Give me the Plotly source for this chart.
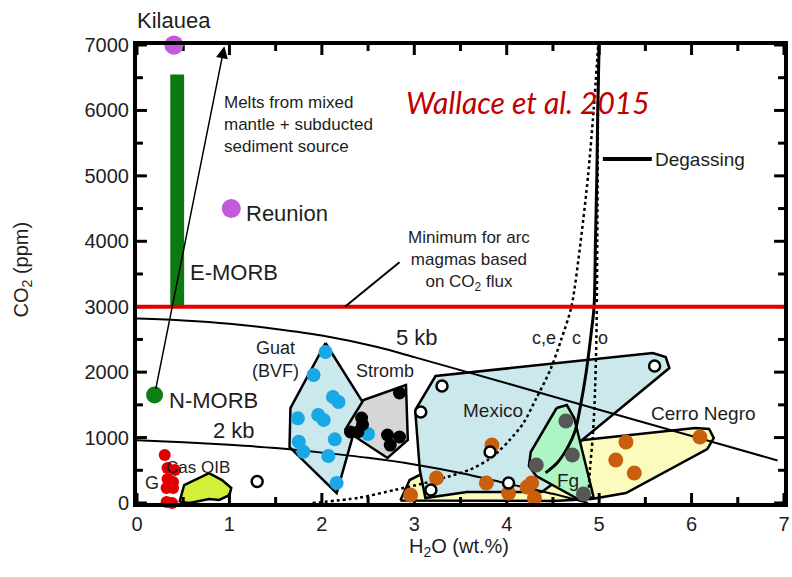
import plotly.graph_objects as go

FONT = "Liberation Sans, Arial, sans-serif"
INK = "#1e1e1e"

# ---- axis tick positions ----
x_major = [0, 1, 2, 3, 4, 5, 6, 7]
x_minor = [0.5, 1.5, 2.5, 3.5, 4.5, 5.5, 6.5]
y_major = [0, 1000, 2000, 3000, 4000, 5000, 6000, 7000]
y_minor = [500, 1500, 2500, 3500, 4500, 5500, 6500]
X_RANGE = [0, 7]
Y_RANGE = [0, 7000]

# ---- isobars (saturation pressure curves) ----
iso5_h2o = [0, 0.5, 1.0, 1.5, 2.0, 2.6, 3.0, 4.0, 5.0, 6.0, 6.93]
iso5_co2 = [2820, 2790, 2740, 2660, 2560, 2384, 2230, 1830, 1425, 1025, 650]
iso2_h2o = [0, 0.5, 1.0, 1.5, 2.0, 2.5, 3.0, 3.5, 4.0, 4.5, 4.88]
iso2_co2 = [960, 930, 890, 840, 770, 690, 590, 460, 300, 140, 0]

# ---- degassing paths ----
closed_h2o = [4.42, 4.55, 4.66, 4.74, 4.80, 4.86, 4.91, 4.945, 4.96, 4.975, 4.985, 5.0]
closed_co2 = [460, 620, 850, 1100, 1500, 2000, 2550, 3000, 4000, 5000, 6000, 7000]
open_h2o = [4.88, 4.90, 4.93, 4.95, 4.97, 4.98, 4.99]
open_co2 = [50, 500, 1000, 1500, 2500, 4000, 7000]
ce_h2o = [1.9, 2.4, 2.79, 3.1, 3.36, 3.6, 3.8, 3.92, 4.03, 4.18, 4.32, 4.47, 4.59, 4.70, 4.80, 4.88, 4.94, 4.99]
ce_co2 = [0, 80, 200, 300, 400, 510, 660, 800, 960, 1220, 1600, 2030, 2500, 3000, 4000, 5000, 6000, 7000]

# ---- field outlines ----
cerro_h2o = [2.85, 2.95, 3.3, 4.83, 6.04, 6.19, 6.24, 6.17, 5.29, 4.92, 4.5, 2.85]
cerro_co2 = [40, 351, 600, 963, 1146, 1131, 993, 825, 153, 60, 30, 40]
mexico_h2o = [3.01, 3.23, 5.58, 5.72, 5.76, 4.79, 4.70, 4.38, 3.57, 3.12, 3.06]
mexico_co2 = [1421, 1941, 2292, 2231, 2063, 932, 504, 168, 168, 76, 504]
fg_h2o = [4.54, 4.65, 4.73, 4.94, 4.79, 4.32, 4.24, 4.26]
fg_co2 = [1452, 1497, 1299, 92, 46, 413, 565, 779]
guat_h2o = [2.04, 2.44, 2.16, 1.65, 1.66]
guat_co2 = [2445, 1545, 150, 855, 1450]
stromb_h2o = [2.25, 2.45, 2.91, 2.93, 2.71]
stromb_co2 = [1115, 1574, 1803, 963, 688]
casoib_h2o = [0.46, 0.51, 0.78, 0.92, 1.02, 1.00, 0.89, 0.78, 0.57]
casoib_co2 = [15, 275, 458, 350, 229, 122, 46, 61, 0]

# ---- melt inclusion / glass data ----
guat_pts_h2o = [2.04, 1.91, 2.12, 2.18, 1.96, 2.02, 1.74, 1.75, 1.80, 2.07, 2.14, 2.50, 2.16]
guat_pts_co2 = [2307, 1956, 1620, 1543, 1345, 1268, 1294, 937, 784, 718, 973, 1054, 305]
stromb_pts_h2o = [2.84, 2.43, 2.44, 2.31, 2.39, 2.71, 2.84, 2.74]
stromb_pts_co2 = [1681, 1299, 1200, 1085, 1085, 1039, 1009, 886]
orange_pts_h2o = [3.84, 3.24, 2.96, 3.78, 4.02, 4.22, 4.27, 4.30, 5.29, 5.18, 5.38, 6.09]
orange_pts_co2 = [886, 382, 122, 306, 153, 245, 306, 76, 932, 657, 458, 1009]
fg_pts_h2o = [4.64, 4.32, 4.71, 4.83]
fg_pts_co2 = [1253, 580, 733, 138]
mexico_pts_h2o = [3.30, 3.07, 5.60, 3.82, 3.18, 4.02, 1.30]
mexico_pts_co2 = [1788, 1390, 2093, 779, 199, 306, 330]
g_pts_h2o = [0.30, 0.33, 0.41, 0.33, 0.39, 0.32, 0.39, 0.32, 0.38]
g_pts_co2 = [733, 535, 504, 367, 321, 229, 229, 15, 0]
oib_h2o = [0.40, 1.02]
oib_co2 = [7000, 4500]
nmorb_h2o = [0.19]
nmorb_co2 = [1650]
emorb_h2o = [0.36, 0.51]
emorb_co2 = [3000, 6550]
arc_min_co2 = 3000

W, H = 792, 577
M = dict(l=137, r=2, t=45, b=74)
# data units per pixel, used to size the inward tick marks
dx_px = (X_RANGE[1] - X_RANGE[0]) / (W - M["l"] - M["r"])
dy_px = (Y_RANGE[1] - Y_RANGE[0]) / (H - M["t"] - M["b"])

fig = go.Figure()


def field(xs, ys, fill):
    fig.add_trace(go.Scatter(
        x=xs + xs[:1], y=ys + ys[:1], mode="lines", fill="toself",
        fillcolor=fill, line=dict(color="black", width=2.5),
        hoverinfo="skip"))


field(cerro_h2o, cerro_co2, "#fbfbbe")
field(mexico_h2o, mexico_co2, "#cbe9ec")
field(fg_h2o, fg_co2, "#aef5c6")
field(guat_h2o, guat_co2, "#cbe9ec")
field(stromb_h2o, stromb_co2, "#d6d6d6")
field(casoib_h2o, casoib_co2, "#d2ef3a")

# E-MORB range bar
fig.add_trace(go.Scatter(
    x=[emorb_h2o[0], emorb_h2o[1], emorb_h2o[1], emorb_h2o[0], emorb_h2o[0]],
    y=[emorb_co2[0], emorb_co2[0], emorb_co2[1], emorb_co2[1], emorb_co2[0]],
    mode="lines", fill="toself", fillcolor="#0b7a12",
    line=dict(color="#0b7a12", width=0), hoverinfo="skip"))

# inward tick marks on all four sides
tx, ty = [], []
for vals, length in ((x_major, 10), (x_minor, 6)):
    for v in vals:
        tx += [v, v, None, v, v, None]
        ty += [Y_RANGE[0], Y_RANGE[0] + length * dy_px, None,
               Y_RANGE[1], Y_RANGE[1] - length * dy_px, None]
for vals, length in ((y_major, 10), (y_minor, 6)):
    for v in vals:
        tx += [X_RANGE[0], X_RANGE[0] + length * dx_px, None,
               X_RANGE[1], X_RANGE[1] - length * dx_px, None]
        ty += [v, v, None, v, v, None]
fig.add_trace(go.Scatter(x=tx, y=ty, mode="lines", line=dict(color="black", width=3),
                         hoverinfo="skip"))


def curve(xs, ys, width, dash="solid"):
    fig.add_trace(go.Scatter(
        x=xs, y=ys, mode="lines", line=dict(color="black", width=width, dash=dash,
                                            shape="spline", smoothing=0.8),
        hoverinfo="skip"))


curve(iso5_h2o, iso5_co2, 2)
curve(iso2_h2o, iso2_co2, 2)
curve(closed_h2o, closed_co2, 3)
curve(open_h2o, open_co2, 2.5, "dot")
curve(ce_h2o, ce_co2, 2.5, "dot")

# minimum CO2 for arc magmas
fig.add_trace(go.Scatter(x=X_RANGE, y=[arc_min_co2, arc_min_co2], mode="lines",
                         line=dict(color="#e00000", width=4), hoverinfo="skip"))

# leader for the arc-minimum note and the degassing key line
fig.add_trace(go.Scatter(x=[2.25, 2.84], y=[3000, 3680], mode="lines",
                         line=dict(color="black", width=2), hoverinfo="skip"))
fig.add_trace(go.Scatter(x=[5.04, 5.57], y=[5256, 5256], mode="lines",
                         line=dict(color="black", width=4), hoverinfo="skip"))


def points(xs, ys, color, size, edge=None, edge_w=0):
    fig.add_trace(go.Scatter(
        x=xs, y=ys, mode="markers", cliponaxis=False,
        marker=dict(color=color, size=size,
                    line=dict(color=edge or color, width=edge_w)),
        hoverinfo="skip"))


points(guat_pts_h2o, guat_pts_co2, "#19a7e6", 14)
points(stromb_pts_h2o, stromb_pts_co2, "black", 13)
points(orange_pts_h2o, orange_pts_co2, "#c95f0c", 15)
points(fg_pts_h2o, fg_pts_co2, "#575757", 15)
points(mexico_pts_h2o, mexico_pts_co2, "white", 11, "black", 2.5)
points(g_pts_h2o, g_pts_co2, "#e00000", 12)
points(oib_h2o, oib_co2, "#c15bd9", 19)
points(nmorb_h2o, nmorb_co2, "#0e7d14", 17)

# the Kilauea point sits on the top frame; repeat it as an overlay shape so the
# frame line does not cut through it
shapes = [dict(type="circle", layer="above", xref="x", yref="y",
               xsizemode="pixel", ysizemode="pixel",
               xanchor=oib_h2o[0], yanchor=oib_co2[0],
               x0=-9.5, x1=9.5, y0=-9.5, y1=9.5,
               fillcolor="#c15bd9", line=dict(width=0))]

ann = []


def label(x, y, text, size=18, xanchor="center", color=INK, italic=False,
          family=FONT, align="center", yshift=0):
    ann.append(dict(x=x, y=y, xref="x", yref="y", text=text, showarrow=False,
                    xanchor=xanchor, yanchor="middle", align=align, yshift=yshift,
                    font=dict(family=family, size=size, color=color,
                              style="italic" if italic else "normal")))


label(0.40, 7000, "Kilauea", 22, yshift=25)
label(1.16, 4430, "Reunion", 22, "left")
label(0.55, 3530, "E-MORB", 22, "left")
label(0.32, 1560, "N-MORB", 22, "left")
label(0.92, 5790, "Melts from mixed<br>mantle + subducted<br>sediment source", 17,
      "left", align="left")
label(3.59, 3700, "Minimum for arc<br>magmas based<br>on CO<sub>2</sub> flux", 17)
label(5.58, 5256, "Degassing", 19, "left")
label(4.23, 6127, "Wallace et al. 2015", 30, color="#c00000", italic=True,
      family="Lato, Open Sans, sans-serif")
label(3.03, 2536, "5 kb", 22)
label(1.05, 1115, "2 kb", 22)
label(1.50, 2190, "Guat<br>(BVF)", 18)
label(2.68, 2017, "Stromb", 18)
label(3.85, 1421, "Mexico", 19)
label(4.66, 351, "Fg", 19)
label(6.13, 1375, "Cerro Negro", 19)
label(0.16, 306, "G", 18)
label(0.66, 550, "Cas OIB", 17)
label(4.40, 2521, "c,e", 18)
label(4.75, 2521, "c", 18)
label(5.04, 2521, "o", 18)

# magma source arrow
ann.append(dict(x=0.945, y=6980, ax=0.2, ay=1720, xref="x", yref="y",
                axref="x", ayref="y", text="", showarrow=True,
                arrowhead=2, arrowsize=1.6, arrowwidth=1.5, arrowcolor="black"))

# axis titles
ann.append(dict(x=0.498, y=0, xref="paper", yref="paper", yshift=-44,
                text="H<sub>2</sub>O (wt.%)", showarrow=False, yanchor="middle",
                font=dict(family=FONT, size=20, color=INK)))
ann.append(dict(x=0, y=0.51, xref="paper", yref="paper", xshift=-115,
                text="CO<sub>2</sub> (ppm)", showarrow=False, textangle=-90,
                xanchor="center", yanchor="middle",
                font=dict(family=FONT, size=20, color=INK)))

fig.update_layout(
    width=W, height=H,
    margin=M,
    plot_bgcolor="white", paper_bgcolor="white",
    showlegend=False,
    annotations=ann,
    shapes=shapes,
)
fig.update_xaxes(range=X_RANGE, tickvals=x_major, ticks="",
                 showline=True, linewidth=4, linecolor="black", mirror=True,
                 showgrid=False, zeroline=False,
                 tickfont=dict(family=FONT, size=20, color=INK))
fig.update_yaxes(range=Y_RANGE, tickvals=y_major, ticks="",
                 showline=True, linewidth=4, linecolor="black", mirror=True,
                 showgrid=False, zeroline=False,
                 tickfont=dict(family=FONT, size=20, color=INK))

fig.write_html("out.html")
